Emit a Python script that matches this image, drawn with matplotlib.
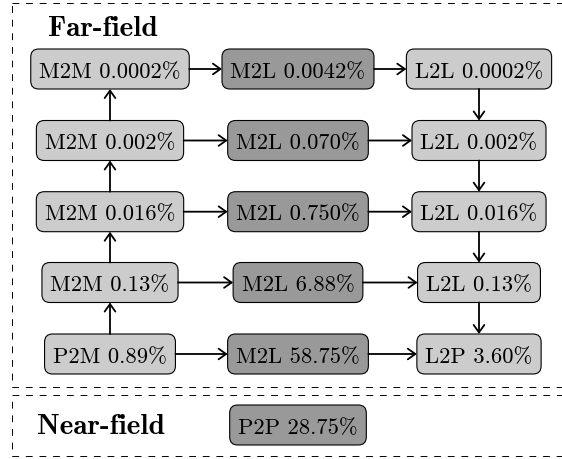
import matplotlib
matplotlib.use("Agg")
import matplotlib.pyplot as plt
from matplotlib.patches import FancyBboxPatch, FancyArrowPatch, Rectangle

plt.rcParams['lines.scale_dashes'] = False

# data, top level of the tree first
up_ops = ["M2M", "M2M", "M2M", "M2M", "P2M"]
up_pct = ["0.0002", "0.002", "0.016", "0.13", "0.89"]
m2l_pct = ["0.0042", "0.070", "0.750", "6.88", "58.75"]
down_ops = ["L2L", "L2L", "L2L", "L2L", "L2P"]
down_pct = ["0.0002", "0.002", "0.016", "0.13", "3.60"]
p2p_pct = "28.75"

light = "#cccccc"
dark = "#999999"
col_x = [110, 298, 479]
row_y = [70, 141.5, 212.7, 283.5, 355]
near_y = 426
box_h = 40
fs = 16.3

fig = plt.figure(figsize=(5.62, 4.6), dpi=100)
ax = fig.add_axes([0, 0, 1, 1])
ax.set_xlim(0, 562)
ax.set_ylim(460, 0)
ax.axis("off")
renderer = fig.canvas.get_renderer()

dash = (0, (4.9, 4.9))
ax.add_patch(Rectangle((12, 3.5), 600, 384, fill=False, ec="black", lw=0.7, ls=dash))
ax.add_patch(Rectangle((12, 396), 600, 60.5, fill=False, ec="black", lw=0.7, ls=dash))

ax.text(48, 27 + 8.5, "Far-field", family="cmb10", fontsize=21, va="baseline", ha="left")
ax.text(37, near_y + 8.5, "Near-field", family="cmb10", fontsize=21, va="baseline", ha="left")


def node(x, y, label, fill):
    t = ax.text(x, y + 7.8, label, family="cmr10", fontsize=fs,
                ha="center", va="baseline", zorder=3)
    w = t.get_window_extent(renderer).width + 17
    r = 8
    ax.add_patch(FancyBboxPatch((x - w / 2 + r, y - box_h / 2 + r), w - 2 * r, box_h - 2 * r,
                                boxstyle=f"round,pad={r}", fc=fill, ec="black", lw=0.8, zorder=2))
    return x - w / 2, x + w / 2


def arrow(p, q):
    ax.add_patch(FancyArrowPatch(p, q, arrowstyle="->,head_length=0.45,head_width=0.32",
                                 mutation_scale=12, lw=1.3, color="black",
                                 shrinkA=0, shrinkB=0, zorder=4))


for i, y in enumerate(row_y):
    l0, r0 = node(col_x[0], y, f"{up_ops[i]} {up_pct[i]}%", light)
    l1, r1 = node(col_x[1], y, f"M2L {m2l_pct[i]}%", dark)
    l2, r2 = node(col_x[2], y, f"{down_ops[i]} {down_pct[i]}%", light)
    arrow((r0, y), (l1, y))
    arrow((r1, y), (l2, y))
    if i > 0:
        arrow((col_x[0], y - box_h / 2), (col_x[0], row_y[i - 1] + box_h / 2))
        arrow((col_x[2], row_y[i - 1] + box_h / 2), (col_x[2], y - box_h / 2))

node(col_x[1], near_y, f"P2P {p2p_pct}%", dark)

fig.savefig("out.png", dpi=100)
